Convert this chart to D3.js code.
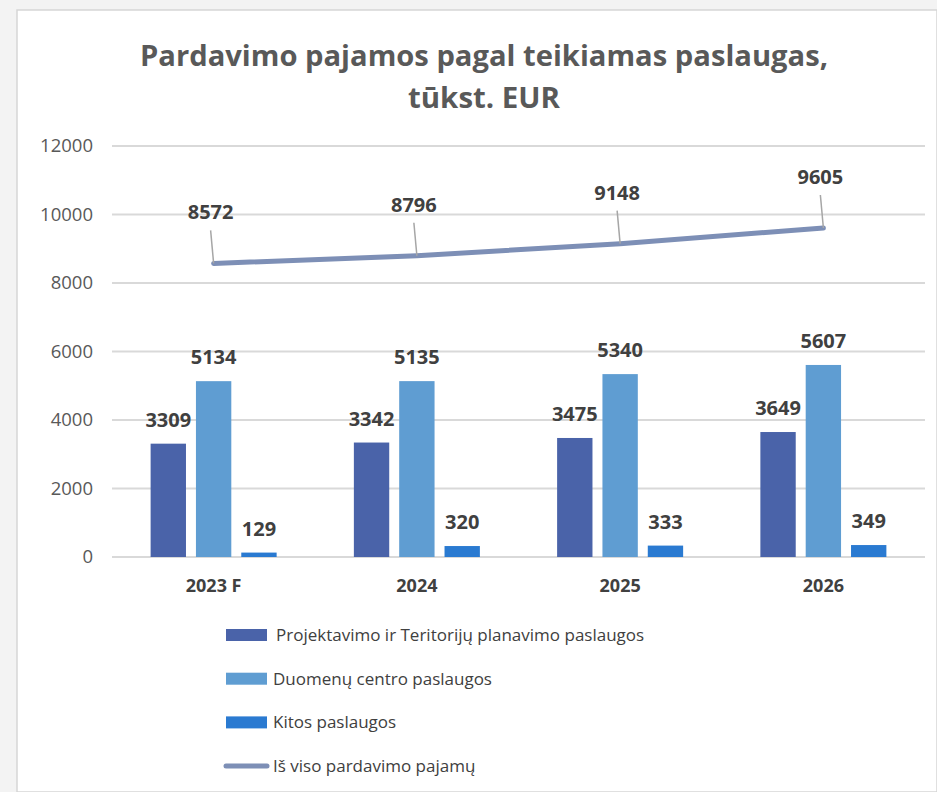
<!DOCTYPE html>
<html>
<head>
<meta charset="utf-8">
<script src="https://cdn.jsdelivr.net/npm/d3@7"></script>
<style>
  body { margin: 0; background: #f3f3f3; }
  #chart { width: 937px; height: 792px; }
  text { font-family: "Open Sans", "Noto Sans", sans-serif; }
</style>
</head>
<body>
<div id="chart"></div>
<script>
// data
let categories = ['2023 F', '2024', '2025', '2026'];
let projektavimo = [3309, 3342, 3475, 3649];
let duomenu = [5134, 5135, 5340, 5607];
let kitos = [129, 320, 333, 349];
let isViso = [8572, 8796, 9148, 9605];
let yTicks = [0, 2000, 4000, 6000, 8000, 10000, 12000];
let seriesNames = ['Projektavimo ir Teritorijų planavimo paslaugos', 'Duomenų centro paslaugos', 'Kitos paslaugos'];
let lineName = 'Iš viso pardavimo pajamų';

let barColors = ['#4a63a9', '#5f9dd2', '#2a7ad1'],
    lineColor = '#7d8fb6';

let width = 937, height = 792,
    margin = {left: 112, top: 146, right: 12, bottom: 235},
    plotW = width - margin.left - margin.right,
    plotH = height - margin.top - margin.bottom;

let svg = d3.select('#chart').append('svg')
    .attr('width', width)
    .attr('height', height);

// white panel
svg.append('rect')
    .attr('x', 17).attr('y', 10)
    .attr('width', width - 17).attr('height', height - 10)
    .attr('fill', '#fff')
    .attr('stroke', '#d6d6d6')
    .attr('stroke-width', 1.5);

// title
svg.append('text')
    .attr('x', 484).attr('y', 66)
    .attr('text-anchor', 'middle')
    .attr('font-size', 29).attr('font-weight', 700)
    .attr('fill', '#595959')
    .attr('textLength', 688)
    .attr('lengthAdjust', 'spacingAndGlyphs')
    .text('Pardavimo pajamos pagal teikiamas paslaugas,');
svg.append('text')
    .attr('x', 484).attr('y', 108)
    .attr('text-anchor', 'middle')
    .attr('font-size', 29).attr('font-weight', 700)
    .attr('fill', '#595959')
    .attr('textLength', 152)
    .attr('lengthAdjust', 'spacingAndGlyphs')
    .text('tūkst. EUR');

let g = svg.append('g')
    .attr('transform', `translate(${margin.left}, ${margin.top})`);

let xScale = d3.scaleBand()
    .domain(categories)
    .range([0, plotW]);

let xInner = d3.scaleBand()
    .domain(d3.range(3))
    .range([xScale.bandwidth() * 0.19, xScale.bandwidth() * 0.81])
    .paddingInner(0.22);

let yScale = d3.scaleLinear()
    .domain([0, 12000])
    .range([plotH, 0]);

// gridlines
g.append('g')
    .selectAll('line')
    .data(yTicks)
    .join('line')
    .attr('x1', 0).attr('x2', plotW)
    .attr('y1', d => yScale(d)).attr('y2', d => yScale(d))
    .attr('stroke', '#d9d9d9')
    .attr('stroke-width', 2);

// y axis labels
let yAxis = g.append('g')
    .attr('transform', 'translate(-19, 0)')
    .call(d3.axisLeft(yScale).tickValues(yTicks).tickFormat(d3.format('d')).tickSize(0).tickPadding(0));
yAxis.select('.domain').remove();
yAxis.selectAll('text')
    .attr('font-family', '"Open Sans", sans-serif')
    .attr('font-size', 18.5)
    .attr('fill', '#595959');

// x axis labels
let xAxis = g.append('g')
    .attr('transform', `translate(0, ${plotH + 22})`)
    .call(d3.axisBottom(xScale).tickSize(0).tickPadding(0));
xAxis.select('.domain').remove();
xAxis.selectAll('text')
    .attr('font-family', '"Open Sans", sans-serif')
    .attr('font-size', 18)
    .attr('font-weight', 700)
    .attr('fill', '#404040');

// bars
let allSeries = [projektavimo, duomenu, kitos];
let barData = [];
categories.forEach((c, i) => {
    allSeries.forEach((s, k) => barData.push({cat: c, k: k, v: s[i]}));
});

g.append('g')
    .selectAll('rect')
    .data(barData)
    .join('rect')
    .attr('x', d => xScale(d.cat) + xInner(d.k))
    .attr('width', xInner.bandwidth())
    .attr('y', d => yScale(d.v))
    .attr('height', d => plotH - yScale(d.v))
    .attr('fill', d => barColors[d.k]);

g.append('g')
    .selectAll('text')
    .data(barData)
    .join('text')
    .attr('x', d => xScale(d.cat) + xInner(d.k) + xInner.bandwidth() / 2)
    .attr('y', d => yScale(d.v) - 17)
    .attr('text-anchor', 'middle')
    .attr('font-size', 20).attr('font-weight', 700)
    .attr('fill', '#404040')
    .text(d => d.v);

// total line
let lineData = categories.map((c, i) => [xScale(c) + xScale.bandwidth() / 2, isViso[i]]);
let line = d3.line()
    .x(d => d[0])
    .y(d => yScale(d[1]));

g.append('path')
    .datum(lineData)
    .attr('d', line)
    .attr('fill', 'none')
    .attr('stroke', lineColor)
    .attr('stroke-width', 5)
    .attr('stroke-linecap', 'round');

// line labels with leader lines
let labels = g.append('g');
lineData.forEach((d, i) => {
    let px = d[0], py = yScale(d[1]);
    let lx = px - 3, ly = py - 44;
    labels.append('line')
        .attr('x1', lx).attr('y1', ly + 11)
        .attr('x2', px).attr('y2', py)
        .attr('stroke', '#a6a6a6')
        .attr('stroke-width', 1.5);
    labels.append('text')
        .attr('x', lx).attr('y', ly)
        .attr('text-anchor', 'middle')
        .attr('font-size', 20).attr('font-weight', 700)
        .attr('fill', '#404040')
        .text(isViso[i]);
});

// legend
let legend = svg.append('g')
    .attr('transform', 'translate(226, 635)');
seriesNames.forEach((name, i) => {
    let row = legend.append('g').attr('transform', `translate(0, ${i * 43.7})`);
    row.append('rect')
        .attr('x', 0).attr('y', -6)
        .attr('width', 41).attr('height', 12)
        .attr('fill', barColors[i]);
    row.append('text')
        .attr('x', i === 0 ? 50 : 47).attr('y', 6)
        .attr('font-size', 17)
        .attr('fill', '#404040')
        .text(name);
});
let lineRow = legend.append('g').attr('transform', `translate(0, ${3 * 43.7})`);
lineRow.append('line')
    .attr('x1', 0).attr('x2', 41)
    .attr('y1', 0).attr('y2', 0)
    .attr('stroke', lineColor)
    .attr('stroke-width', 5)
    .attr('stroke-linecap', 'round');
lineRow.append('text')
    .attr('x', 47).attr('y', 6)
    .attr('font-size', 17)
    .attr('fill', '#404040')
    .text(lineName);
</script>
</body>
</html>
